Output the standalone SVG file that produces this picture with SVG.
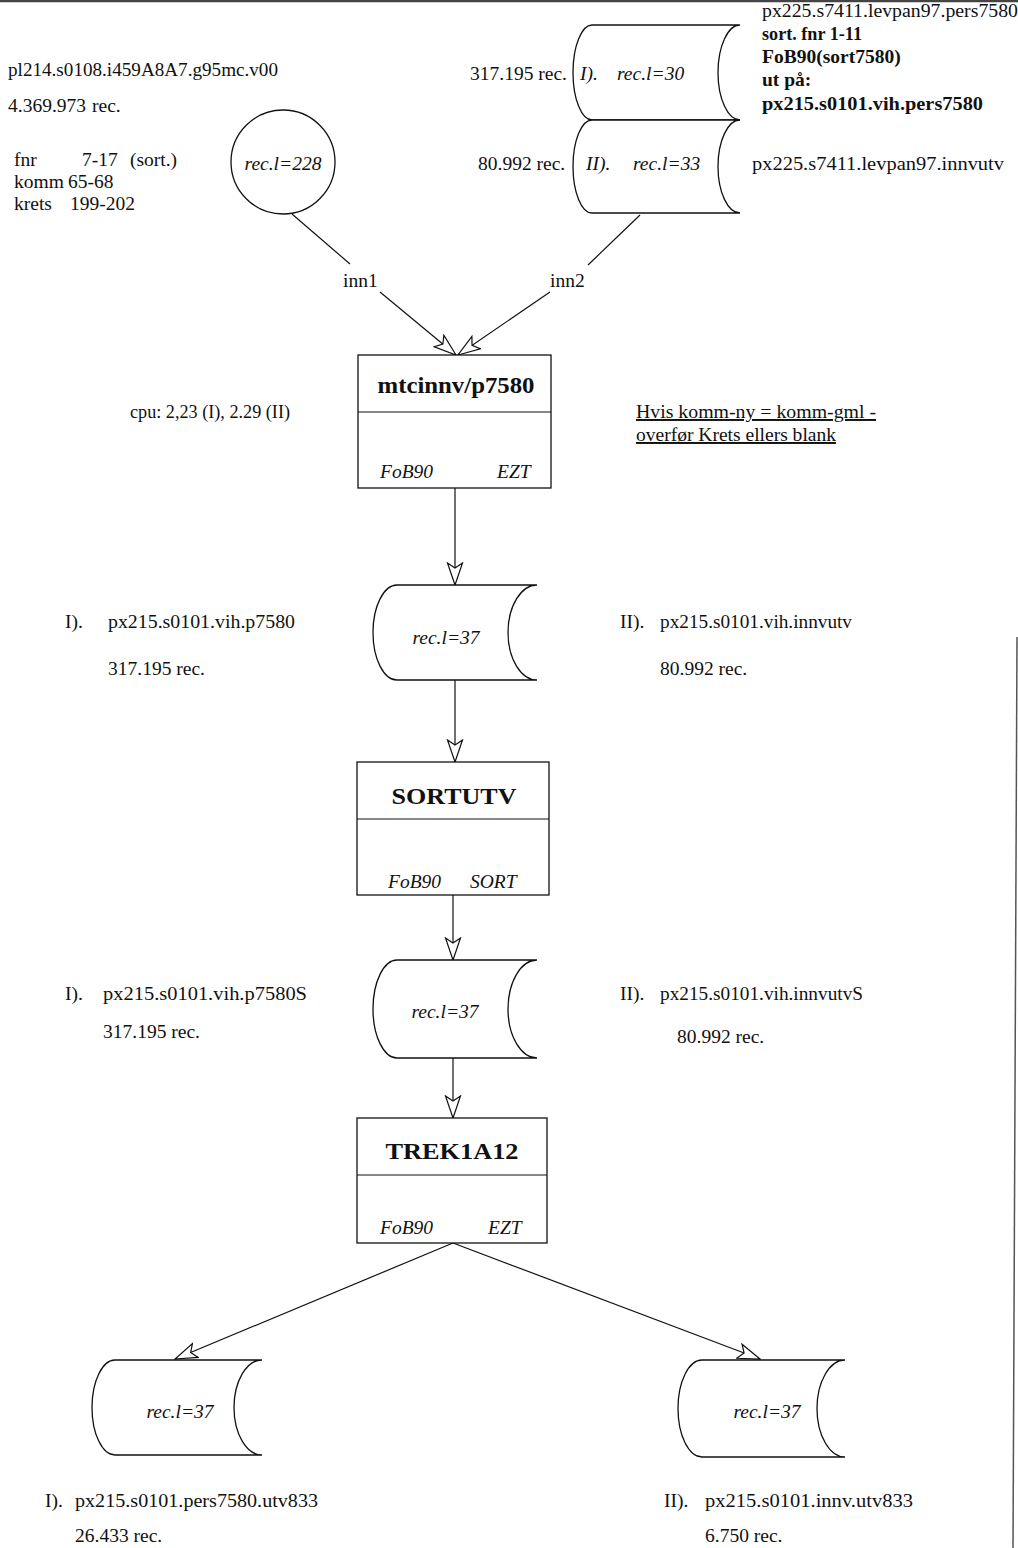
<svg xmlns="http://www.w3.org/2000/svg" width="1018" height="1548" viewBox="0 0 1018 1548">
<style>
text{font-family:"Liberation Serif","Times New Roman",serif;font-size:19.5px;fill:#111}
.b{font-weight:bold}
.i{font-style:italic}
.t{font-weight:bold;font-size:24px;text-anchor:middle}
.c{text-anchor:middle}
.u{text-decoration:underline}
.s{fill:#fff;stroke:#111;stroke-width:1.3}
.ln{fill:none;stroke:#111;stroke-width:1.2}
</style>
<defs>
<marker id="ah" markerWidth="24" markerHeight="18" refX="23" refY="9" orient="auto" markerUnits="userSpaceOnUse" viewBox="0 0 24 18">
<path d="M23,9 L1,1.5 L6,9 L1,16.5 Z" fill="#fff" stroke="#111" stroke-width="1.2"/>
</marker>
</defs>
<rect width="1018" height="1548" fill="#fff"/>
<line x1="0" y1="1" x2="1018" y2="1" stroke="#444" stroke-width="2.5"/>
<line x1="1017" y1="637" x2="1013" y2="1548" stroke="#555" stroke-width="1.5"/>

<g id="connectors">
<line class="ln" x1="292" y1="214" x2="350" y2="264"/>
<line class="ln" x1="380" y1="292" x2="456" y2="355" marker-end="url(#ah)"/>
<line class="ln" x1="640" y1="215" x2="588" y2="265"/>
<line class="ln" x1="550" y1="292" x2="458" y2="355" marker-end="url(#ah)"/>
<line class="ln" x1="455" y1="488" x2="455" y2="585" marker-end="url(#ah)"/>
<line class="ln" x1="455" y1="680" x2="455" y2="762" marker-end="url(#ah)"/>
<line class="ln" x1="453" y1="895" x2="453" y2="960" marker-end="url(#ah)"/>
<line class="ln" x1="453" y1="1058" x2="453" y2="1118" marker-end="url(#ah)"/>
<line class="ln" x1="453" y1="1243" x2="175" y2="1359" marker-end="url(#ah)"/>
<line class="ln" x1="453" y1="1243" x2="760" y2="1359" marker-end="url(#ah)"/>
<text x="343" y="287">inn1</text>
<text x="550" y="287">inn2</text>
</g>

<g id="input-circle">
<circle class="s" cx="283" cy="162" r="52"/>
<text class="i c" x="283" y="170">rec.l=228</text>
</g>
<g id="input-info">
<text x="8" y="76" textLength="270" lengthAdjust="spacingAndGlyphs">pl214.s0108.i459A8A7.g95mc.v00</text>
<text x="8" y="112">4.369.973</text><text x="92" y="112">rec.</text>
<text x="14" y="166">fnr</text><text x="82" y="166">7-17</text><text x="130" y="166">(sort.)</text>
<text x="14" y="188">komm</text><text x="68" y="188">65-68</text>
<text x="14" y="210">krets</text><text x="70" y="210">199-202</text>
</g>

<g id="tape-1">
<path class="s" d="M592,25 H740 A22,47.5 0 0 0 740,120 H592 A19,47.5 0 0 1 592,25 Z"/>
<text class="i" x="580" y="80">I).</text>
<text class="i" x="617" y="80">rec.l=30</text>
</g>
<g id="tape-2">
<path class="s" d="M592,120 H740 A22,46.5 0 0 0 740,213 H592 A19,46.5 0 0 1 592,120 Z"/>
<text class="i" x="586" y="170">II).</text>
<text class="i" x="633" y="170">rec.l=33</text>
</g>
<g id="tape-info">
<text x="470" y="80">317.195 rec.</text>
<text x="478" y="170">80.992 rec.</text>
<text x="762" y="17" textLength="256" lengthAdjust="spacingAndGlyphs">px225.s7411.levpan97.pers7580</text>
<text class="b" x="762" y="40" textLength="100" lengthAdjust="spacingAndGlyphs">sort. fnr 1-11</text>
<text class="b" x="762" y="63">FoB90(sort7580)</text>
<text class="b" x="762" y="86">ut på:</text>
<text class="b" x="762" y="110" textLength="221" lengthAdjust="spacingAndGlyphs">px215.s0101.vih.pers7580</text>
<text x="752" y="170" textLength="252" lengthAdjust="spacingAndGlyphs">px225.s7411.levpan97.innvutv</text>
</g>

<g id="box-mtcinnv">
<rect class="s" x="358" y="355" width="193" height="133"/>
<line class="ln" x1="358" y1="412" x2="551" y2="412"/>
<text class="t" x="456" y="393" textLength="157" lengthAdjust="spacingAndGlyphs">mtcinnv/p7580</text>
<text class="i" x="380" y="478">FoB90</text>
<text class="i" x="497" y="478">EZT</text>
</g>
<g id="note-cpu">
<text x="130" y="418" textLength="160" lengthAdjust="spacingAndGlyphs">cpu: 2,23 (I),  2.29 (II)</text>
</g>
<g id="note-hvis">
<text class="u" x="636" y="418" textLength="240" lengthAdjust="spacingAndGlyphs">Hvis komm-ny = komm-gml -</text>
<text class="u" x="636" y="441" textLength="200" lengthAdjust="spacingAndGlyphs">overfør Krets ellers blank</text>
</g>

<g id="tape-p7580">
<path class="s" d="M397,585 H537 A29,47.5 0 0 0 537,680 H397 A24,47.5 0 0 1 397,585 Z"/>
<text class="i c" x="446" y="644">rec.l=37</text>
</g>
<g id="tape-p7580-info">
<text x="65" y="628">I).</text><text x="108" y="628" textLength="187" lengthAdjust="spacingAndGlyphs">px215.s0101.vih.p7580</text>
<text x="108" y="675">317.195 rec.</text>
<text x="620" y="628">II).</text><text x="660" y="628" textLength="192" lengthAdjust="spacingAndGlyphs">px215.s0101.vih.innvutv</text>
<text x="660" y="675">80.992 rec.</text>
</g>

<g id="box-sortutv">
<rect class="s" x="357" y="762" width="192" height="133"/>
<line class="ln" x1="357" y1="819" x2="549" y2="819"/>
<text class="t" x="454" y="804" textLength="125" lengthAdjust="spacingAndGlyphs">SORTUTV</text>
<text class="i" x="388" y="888">FoB90</text>
<text class="i" x="470" y="888">SORT</text>
</g>

<g id="tape-sorted">
<path class="s" d="M397,960 H537 A29,49 0 0 0 537,1058 H397 A24,49 0 0 1 397,960 Z"/>
<text class="i c" x="445" y="1018">rec.l=37</text>
</g>
<g id="tape-sorted-info">
<text x="65" y="1000">I).</text><text x="103" y="1000" textLength="204" lengthAdjust="spacingAndGlyphs">px215.s0101.vih.p7580S</text>
<text x="103" y="1038">317.195 rec.</text>
<text x="620" y="1000">II).</text><text x="660" y="1000" textLength="203" lengthAdjust="spacingAndGlyphs">px215.s0101.vih.innvutvS</text>
<text x="677" y="1043">80.992 rec.</text>
</g>

<g id="box-trek">
<rect class="s" x="357" y="1118" width="190" height="125"/>
<line class="ln" x1="357" y1="1175" x2="547" y2="1175"/>
<text class="t" x="452" y="1159" textLength="133" lengthAdjust="spacingAndGlyphs">TREK1A12</text>
<text class="i" x="380" y="1234">FoB90</text>
<text class="i" x="488" y="1234">EZT</text>
</g>

<g id="tape-out-1">
<path class="s" d="M115,1360 H262 A28,47.5 0 0 0 262,1455 H115 A23,47.5 0 0 1 115,1360 Z"/>
<text class="i c" x="180" y="1418">rec.l=37</text>
</g>
<g id="tape-out-1-info">
<text x="45" y="1507">I).</text><text x="75" y="1507" textLength="243" lengthAdjust="spacingAndGlyphs">px215.s0101.pers7580.utv833</text>
<text x="75" y="1542">26.433 rec.</text>
</g>

<g id="tape-out-2">
<path class="s" d="M702,1360 H845 A28,48.5 0 0 0 845,1457 H702 A24,48.5 0 0 1 702,1360 Z"/>
<text class="i c" x="767" y="1418">rec.l=37</text>
</g>
<g id="tape-out-2-info">
<text x="664" y="1507">II).</text><text x="705" y="1507" textLength="208" lengthAdjust="spacingAndGlyphs">px215.s0101.innv.utv833</text>
<text x="705" y="1542">6.750 rec.</text>
</g>
</svg>
